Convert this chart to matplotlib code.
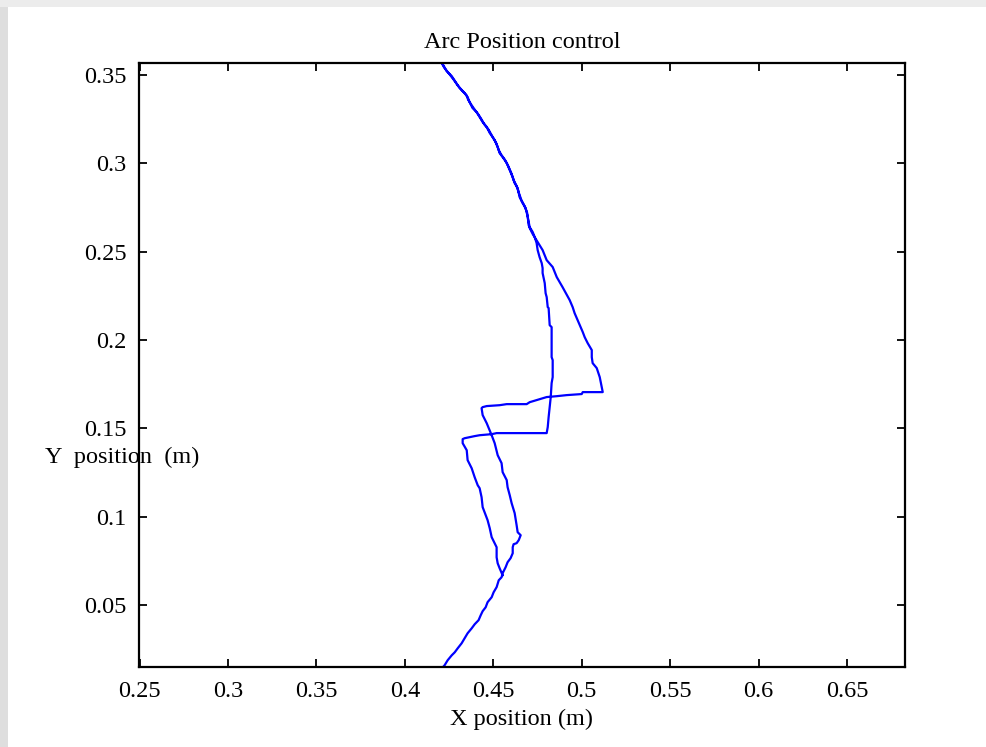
import matplotlib
matplotlib.use("Agg")
import matplotlib.pyplot as plt
from matplotlib.patches import Rectangle

# Trajectory of the arm (x, y in metres)
x_path = [
    # bottom up to the junction
    0.4214, 0.4225, 0.4242, 0.4265, 0.4282, 0.4299, 0.4321, 0.4338, 0.4355, 0.4378,
    0.4395, 0.4417, 0.4429, 0.4440, 0.4457, 0.4468, 0.4491, 0.4502, 0.4519, 0.4531,
    0.4547, 0.4553,
    # right lower branch going up
    0.4570, 0.4581, 0.4598, 0.4610, 0.4610, 0.4615, 0.4632, 0.4644, 0.4655, 0.4638,
    0.4632, 0.4621, 0.4604, 0.4593, 0.4581, 0.4576, 0.4553, 0.4547, 0.4525, 0.4508,
    0.4491, 0.4463, 0.4440, 0.4434,
    # upper horizontal jump to the right
    0.4440, 0.4463, 0.4536, 0.4576, 0.4689, 0.4706, 0.4745, 0.4779, 0.4802, 0.4859,
    0.4915, 0.5000, 0.5006, 0.5119,
    # right upper branch going up
    0.5119, 0.5102, 0.5085, 0.5062, 0.5057, 0.5057, 0.5034, 0.5017, 0.5006, 0.4977,
    0.4960, 0.4949, 0.4932, 0.4892, 0.4859, 0.4836, 0.4802, 0.4779, 0.4751, 0.4723,
    0.4706,
    # arc up to the top
    0.4700, 0.4695, 0.4683, 0.4666, 0.4649, 0.4638, 0.4621, 0.4610, 0.4593, 0.4576,
    0.4553, 0.4536, 0.4525, 0.4508, 0.4480, 0.4463, 0.4440, 0.4423, 0.4406, 0.4383,
    0.4366, 0.4355, 0.4338, 0.4310, 0.4287, 0.4265, 0.4236, 0.4214, 0.4208,
    # arc back down
    0.4224, 0.4252, 0.4279, 0.4300, 0.4326, 0.4349, 0.4358, 0.4377, 0.4398, 0.4417,
    0.4434, 0.4450, 0.4474, 0.4496, 0.4518, 0.4531, 0.4546, 0.4566, 0.4586, 0.4603,
    0.4615, 0.4631, 0.4644, 0.4659, 0.4676, 0.4691, 0.4697,
    # inner vertical branch down
    0.4706, 0.4723, 0.4734, 0.4745, 0.4751, 0.4762, 0.4774, 0.4779, 0.4779, 0.4785,
    0.4791, 0.4796, 0.4802, 0.4808, 0.4813, 0.4819, 0.4830, 0.4830, 0.4836, 0.4836,
    0.4830, 0.4825, 0.4819, 0.4813, 0.4808, 0.4802,
    # lower horizontal jump to the left
    0.4519, 0.4491, 0.4423, 0.4395, 0.4338, 0.4327, 0.4327,
    # left branch down to the junction
    0.4350, 0.4355, 0.4378, 0.4395, 0.4412, 0.4423, 0.4434, 0.4440, 0.4457, 0.4468,
    0.4480, 0.4491, 0.4508, 0.4519, 0.4519, 0.4525, 0.4536, 0.4553,
]
y_path = [
    0.0147, 0.0159, 0.0187, 0.0215, 0.0232, 0.0255, 0.0283, 0.0312, 0.0340, 0.0368,
    0.0391, 0.0414, 0.0442, 0.0465, 0.0487, 0.0516, 0.0544, 0.0572, 0.0601, 0.0640,
    0.0657, 0.0680,
    0.0714, 0.0742, 0.0765, 0.0793, 0.0827, 0.0844, 0.0850, 0.0867, 0.0895, 0.0912,
    0.0952, 0.1020, 0.1076, 0.1122, 0.1167, 0.1207, 0.1252, 0.1303, 0.1348, 0.1416,
    0.1461, 0.1529, 0.1575, 0.1614,
    0.1620, 0.1626, 0.1631, 0.1637, 0.1637, 0.1648, 0.1660, 0.1671, 0.1677, 0.1682,
    0.1688, 0.1694, 0.1705, 0.1705,
    0.1705, 0.1790, 0.1841, 0.1869, 0.1903, 0.1943, 0.1982, 0.2016, 0.2045, 0.2113,
    0.2152, 0.2186, 0.2226, 0.2299, 0.2356, 0.2413, 0.2452, 0.2509, 0.2554, 0.2600,
    0.2634,
    0.2651, 0.2696, 0.2747, 0.2775, 0.2809, 0.2860, 0.2888, 0.2922, 0.2962, 0.3002,
    0.3036, 0.3058, 0.3092, 0.3132, 0.3172, 0.3206, 0.3234, 0.3262, 0.3290, 0.3313,
    0.3347, 0.3375, 0.3398, 0.3426, 0.3460, 0.3494, 0.3523, 0.3562, 0.3568,
    0.3540, 0.3505, 0.3470, 0.3440, 0.3410, 0.3385, 0.3360, 0.3330, 0.3300, 0.3275,
    0.3248, 0.3220, 0.3190, 0.3150, 0.3112, 0.3075, 0.3047, 0.3020, 0.2982, 0.2942,
    0.2905, 0.2874, 0.2835, 0.2792, 0.2760, 0.2722, 0.2685,
    0.2639, 0.2611, 0.2583, 0.2549, 0.2509, 0.2469, 0.2435, 0.2407, 0.2379, 0.2350,
    0.2322, 0.2265, 0.2243, 0.2186, 0.2181, 0.2084, 0.2073, 0.1903, 0.1886, 0.1790,
    0.1756, 0.1677, 0.1620, 0.1563, 0.1507, 0.1473,
    0.1473, 0.1467, 0.1461, 0.1456, 0.1444, 0.1439, 0.1416,
    0.1376, 0.1320, 0.1274, 0.1223, 0.1178, 0.1161, 0.1110, 0.1054, 0.1008, 0.0980,
    0.0935, 0.0884, 0.0850, 0.0827, 0.0770, 0.0736, 0.0708, 0.0668,
]

x_ticks = [0.25, 0.3, 0.35, 0.4, 0.45, 0.5, 0.55, 0.6, 0.65]
x_ticklabels = ["0.25", "0.3", "0.35", "0.4", "0.45", "0.5", "0.55", "0.6", "0.65"]
y_ticks = [0.05, 0.1, 0.15, 0.2, 0.25, 0.3, 0.35]
y_ticklabels = ["0.05", "0.1", "0.15", "0.2", "0.25", "0.3", "0.35"]

plt.rcParams['font.family'] = ['Liberation Serif', 'DejaVu Serif']

fig = plt.figure(figsize=(9.86, 7.47), dpi=100)
fig.patch.set_facecolor('white')
# light grey frame strips (left and top) as in the reference
fig.add_artist(Rectangle((0, 0), 8 / 986, 1, transform=fig.transFigure,
                         facecolor='#dedede', edgecolor='none', zorder=0))
fig.add_artist(Rectangle((0, 1 - 7 / 747), 1, 7 / 747, transform=fig.transFigure,
                         facecolor='#ececec', edgecolor='none', zorder=0))

ax = fig.add_axes([139 / 986, 80 / 747, (905 - 139) / 986, (667 - 63) / 747])
ax.plot(x_path, y_path, color='#0000ff', lw=1.6, solid_joinstyle='round')

ax.set_xlim(0.2497, 0.6828)
ax.set_ylim(0.0149, 0.3568)
ax.set_xticks(x_ticks)
ax.set_xticklabels(x_ticklabels)
ax.set_yticks(y_ticks)
ax.set_yticklabels(y_ticklabels)
ax.tick_params(direction='in', length=6, width=1.3, top=True, right=True,
               labelsize=17.5, colors='black')
ax.tick_params(axis='y', pad=9)
ax.tick_params(axis='x', pad=10)
for s in ax.spines.values():
    s.set_linewidth(1.6)

ax.set_title("Arc Position control", fontsize=17.5, pad=11)
ax.set_xlabel("X position (m)", fontsize=17.5, labelpad=5)
fig.text(45 / 986, 1 - 457 / 747, "Y  position  (m)", fontsize=17.5,
         ha='left', va='center')

fig.savefig("out.png", dpi=100)
